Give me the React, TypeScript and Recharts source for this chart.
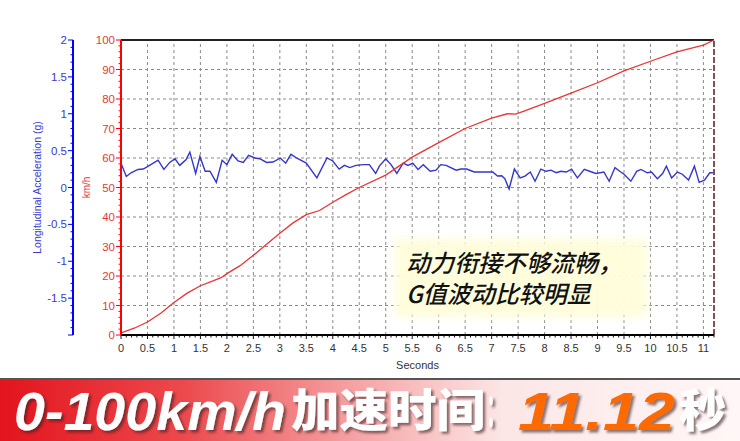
import { LineChart, Line, XAxis, YAxis, ReferenceLine } from "recharts";

// longitudinal acceleration (g)
const accelTimes = [
  0, 0.1, 0.19, 0.32, 0.42, 0.54, 0.7, 0.81, 0.92, 1.02, 1.11, 1.23, 1.3, 1.41, 1.49, 1.59,
  1.68, 1.8, 1.91, 2.0, 2.1, 2.21, 2.31, 2.41, 2.53, 2.62, 2.75, 2.87, 3.01, 3.11, 3.21, 3.34,
  3.5, 3.7, 3.89, 4.0, 4.12, 4.22, 4.32, 4.44, 4.57, 4.69, 4.81, 4.88, 5.0, 5.1, 5.21, 5.33,
  5.42, 5.51, 5.61, 5.71, 5.84, 5.95, 6.04, 6.14, 6.33, 6.42, 6.53, 6.67, 7.02, 7.11, 7.19,
  7.25, 7.33, 7.43, 7.54, 7.63, 7.73, 7.82, 7.93, 8.03, 8.12, 8.22, 8.31, 8.41, 8.51, 8.62,
  8.75, 8.85, 8.97, 9.12, 9.22, 9.33, 9.42, 9.5, 9.63, 9.74, 9.82, 9.94, 10.02, 10.13, 10.23,
  10.3, 10.4, 10.51, 10.6, 10.72, 10.83, 10.92, 11.02, 11.12, 11.18,
];
const accelValues = [
  0.33, 0.15, 0.2, 0.245, 0.25, 0.3, 0.37, 0.245, 0.34, 0.39, 0.3, 0.38, 0.48, 0.19, 0.42, 0.22,
  0.22, 0.07, 0.37, 0.31, 0.45, 0.36, 0.34, 0.435, 0.4, 0.39, 0.34, 0.345, 0.4, 0.33, 0.45, 0.39,
  0.33, 0.13, 0.4, 0.36, 0.25, 0.3, 0.27, 0.3, 0.31, 0.31, 0.19, 0.29, 0.39, 0.31, 0.19, 0.33,
  0.3, 0.33, 0.245, 0.31, 0.22, 0.235, 0.31, 0.3, 0.235, 0.25, 0.25, 0.21, 0.21, 0.155, 0.16,
  0.12, -0.02, 0.25, 0.13, 0.155, 0.21, 0.085, 0.25, 0.22, 0.235, 0.2, 0.22, 0.21, 0.25, 0.13,
  0.245, 0.22, 0.19, 0.21, 0.085, 0.27, 0.22, 0.18, 0.085, 0.22, 0.245, 0.2, 0.21, 0.12, 0.19,
  0.29, 0.13, 0.21, 0.18, 0.1, 0.29, 0.07, 0.1, 0.2, 0.2,
];

// speed (km/h)
const speedTimes = [
  0, 0.25, 0.5, 0.75, 1, 1.25, 1.5, 1.75, 1.9, 2, 2.25, 2.5, 2.75, 3, 3.25, 3.5, 3.75, 4, 4.25,
  4.5, 5, 5.5, 6, 6.5, 7, 7.3, 7.45, 7.6, 8, 8.5, 9, 9.5, 10, 10.5, 11, 11.2,
];
const speedValues = [
  0.7, 2.3, 4.4, 7.4, 11, 14.2, 16.7, 18.4, 19.5, 20.8, 23.5, 27, 30.8, 34.5, 38, 40.8, 42.2, 45,
  47.6, 50, 54.2, 60.3, 65.2, 70, 73.5, 75, 74.9, 75.8, 78.5, 82, 85.5, 89.5, 92.8, 96, 98.3, 100,
];

const speedGrid = [10, 20, 30, 40, 50, 60, 70, 80, 90];
const timeGrid = [0.5, 1, 1.5, 2, 2.5, 3, 3.5, 4, 4.5, 5, 5.5, 6, 6.5, 7, 7.5, 8, 8.5, 9, 9.5, 10, 10.5, 11];

const range = (from: number, to: number, step: number) => {
  const out: number[] = [];
  for (let v = from; v <= to + 1e-9; v += step) out.push(Math.round(v * 10) / 10);
  return out;
};
const gTicks = range(-2, 2, 0.1);
const kmhTicks = range(0, 100, 2);
const secTicks = range(0, 11.2, 0.1);

const accelData = accelTimes.map((t, i) => ({ t, g: accelValues[i] }));
const speedData = speedTimes.map((t, i) => ({ t, kmh: speedValues[i] }));

const FONT = "'Liberation Sans', Arial, sans-serif";
// recharts stacks the left axes by id, so the speed axis (next to the plot) sorts first
const SPEED = "a_speed";
const ACCEL = "b_accel";
const isMult = (v: number, m: number) => Math.abs(v / m - Math.round(v / m)) < 1e-6;

const GTick = ({ x, y, payload }: any) => {
  const v = payload.value;
  const major = isMult(v, 0.5);
  return (
    <g>
      <line x1={x - (major ? 5 : 2.5)} x2={x} y1={y} y2={y} stroke="#0000ff" />
      {major && v > -2 && (
        <text x={x - 6} y={y} dy={4} textAnchor="end" fill="#3a3ad2" fontSize={11.5} fontFamily={FONT}>
          {v}
        </text>
      )}
    </g>
  );
};

const KmhTick = ({ x, y, payload }: any) => {
  const v = payload.value;
  const major = isMult(v, 10);
  return (
    <g>
      <line x1={x - (major ? 5 : 2.5)} x2={x} y1={y} y2={y} stroke="#ff0000" />
      {major && (
        <text x={x - 6} y={y} dy={4} textAnchor="end" fill="#e23a3a" fontSize={11.5} fontFamily={FONT}>
          {v}
        </text>
      )}
    </g>
  );
};

const SecTick = ({ x, y, payload }: any) => {
  const v = payload.value;
  const major = isMult(v, 0.5);
  return (
    <g>
      <line x1={x} x2={x} y1={y} y2={y + (major ? 4 : 2.5)} stroke="#111" />
      {major && v <= 11 && (
        <text x={x} y={y + 17} textAnchor="middle" fill="#333" fontSize={11} fontFamily={FONT}>
          {v}
        </text>
      )}
    </g>
  );
};

const bannerParts = [
  { s: "0-100km/h", x: 14, w: 272, c: "#fff", cjk: false },
  { s: "加速时间", x: 291, w: 194, c: "#fff", cjk: true },
  { s: "：", x: 487, w: 16, c: "#fff", cjk: true },
  { s: "11.12", x: 518, w: 157, c: "#ff6a00", cjk: false },
  { s: "秒", x: 679, w: 47, c: "#fff", cjk: true },
];

export default function App() {
  return (
    <div style={{ position: "fixed", left: 0, top: 0, width: 740, height: 441, background: "#fff", overflow: "hidden" }}>
      <LineChart width={740} height={378} margin={{ top: 40, right: 26, bottom: 3, left: 13 }}>
        <XAxis
          dataKey="t"
          type="number"
          domain={[0, 11.2]}
          ticks={secTicks}
          interval={0}
          tick={<SecTick />}
          tickLine={false}
          tickSize={0}
          tickMargin={0}
          height={40}
          axisLine={{ stroke: "#000", strokeWidth: 2 }}
          label={{ value: "Seconds", position: "insideBottom", offset: 6, fill: "#333", fontSize: 11, fontFamily: FONT }}
        />
        <YAxis
          yAxisId={SPEED}
          orientation="left"
          type="number"
          domain={[0, 100]}
          ticks={kmhTicks}
          interval={0}
          width={48}
          tick={<KmhTick />}
          tickLine={false}
          tickSize={0}
          tickMargin={0}
          axisLine={{ stroke: "#ff0000", strokeWidth: 2 }}
          label={{ value: "km/h", angle: -90, position: "center", dx: -11, fill: "#e23a3a", fontSize: 10, fontFamily: FONT }}
        />
        <YAxis
          yAxisId={ACCEL}
          orientation="left"
          type="number"
          domain={[-2, 2]}
          ticks={gTicks}
          interval={0}
          width={60}
          tick={<GTick />}
          tickLine={false}
          tickSize={0}
          tickMargin={0}
          axisLine={{ stroke: "#0000ff", strokeWidth: 2 }}
          label={{
            value: "Longitudinal Acceleration (g)",
            angle: -90,
            position: "center",
            dx: -6,
            fill: "#3a3ad2",
            fontSize: 10.5,
            fontFamily: FONT,
          }}
        />
        {speedGrid.map((v) => (
          <ReferenceLine key={"h" + v} yAxisId={SPEED} y={v} stroke="#8a8a8a" strokeDasharray="3 3" />
        ))}
        {timeGrid.map((v) => (
          <ReferenceLine key={"v" + v} yAxisId={SPEED} x={v} stroke="#8a8a8a" strokeDasharray="3 3" />
        ))}
        <ReferenceLine yAxisId={SPEED} y={100} stroke="#222" strokeWidth={2} />
        <ReferenceLine yAxisId={SPEED} x={11.2} stroke="#5a1818" strokeWidth={1.5} strokeDasharray="6 2" />
        <Line
          yAxisId={ACCEL}
          data={accelData}
          dataKey="g"
          stroke="#3535cf"
          strokeWidth={1.4}
          dot={false}
          isAnimationActive={false}
        />
        <Line
          yAxisId={SPEED}
          data={speedData}
          dataKey="kmh"
          stroke="#e83535"
          strokeWidth={1.3}
          dot={false}
          isAnimationActive={false}
        />
      </LineChart>

      <div
        style={{
          position: "absolute",
          left: 401,
          top: 245,
          width: 240,
          height: 66,
          background: "rgba(255,253,218,0.95)",
          boxShadow: "0 0 8px 6px rgba(255,253,218,0.95)",
        }}
      />
      <div
        style={{
          position: "absolute",
          left: 406,
          top: 246,
          fontFamily: "'Noto Sans CJK SC', sans-serif",
          fontStyle: "italic",
          fontWeight: 500,
          fontSize: 24,
          lineHeight: "31px",
          color: "#111",
          whiteSpace: "nowrap",
        }}
      >
        <div>动力衔接不够流畅，</div>
        <div>G值波动比较明显</div>
      </div>

      <svg width={740} height={63} style={{ position: "absolute", left: 0, top: 378 }}>
        <defs>
          <linearGradient id="band" x1="0" y1="0" x2="1" y2="0">
            <stop offset="0%" stopColor="#e3141d" />
            <stop offset="25%" stopColor="#ec4a4d" />
            <stop offset="48%" stopColor="#f5a3a5" />
            <stop offset="68%" stopColor="#fce6e6" />
            <stop offset="100%" stopColor="#fff7f7" />
          </linearGradient>
          <filter id="shade" x="-10%" y="-20%" width="130%" height="150%">
            <feDropShadow dx="2.5" dy="2.5" stdDeviation="1" floodColor="#3c1e1e" floodOpacity="0.6" />
          </filter>
        </defs>
        <rect x={0} y={0} width={740} height={63} fill="url(#band)" />
        <rect x={0} y={0} width={740} height={2} fill="#555" />
        {bannerParts.map((p) => (
          <text
            key={p.s}
            x={p.x}
            y={p.cjk ? 49 : 52}
            textLength={p.w}
            lengthAdjust="spacingAndGlyphs"
            fill={p.c}
            filter="url(#shade)"
            fontFamily={p.cjk ? "'Noto Sans CJK SC', sans-serif" : FONT}
            fontWeight={900}
            fontStyle={p.cjk ? "normal" : "italic"}
            fontSize={p.cjk ? 45 : 53}
          >
            {p.s}
          </text>
        ))}
      </svg>
    </div>
  );
}
